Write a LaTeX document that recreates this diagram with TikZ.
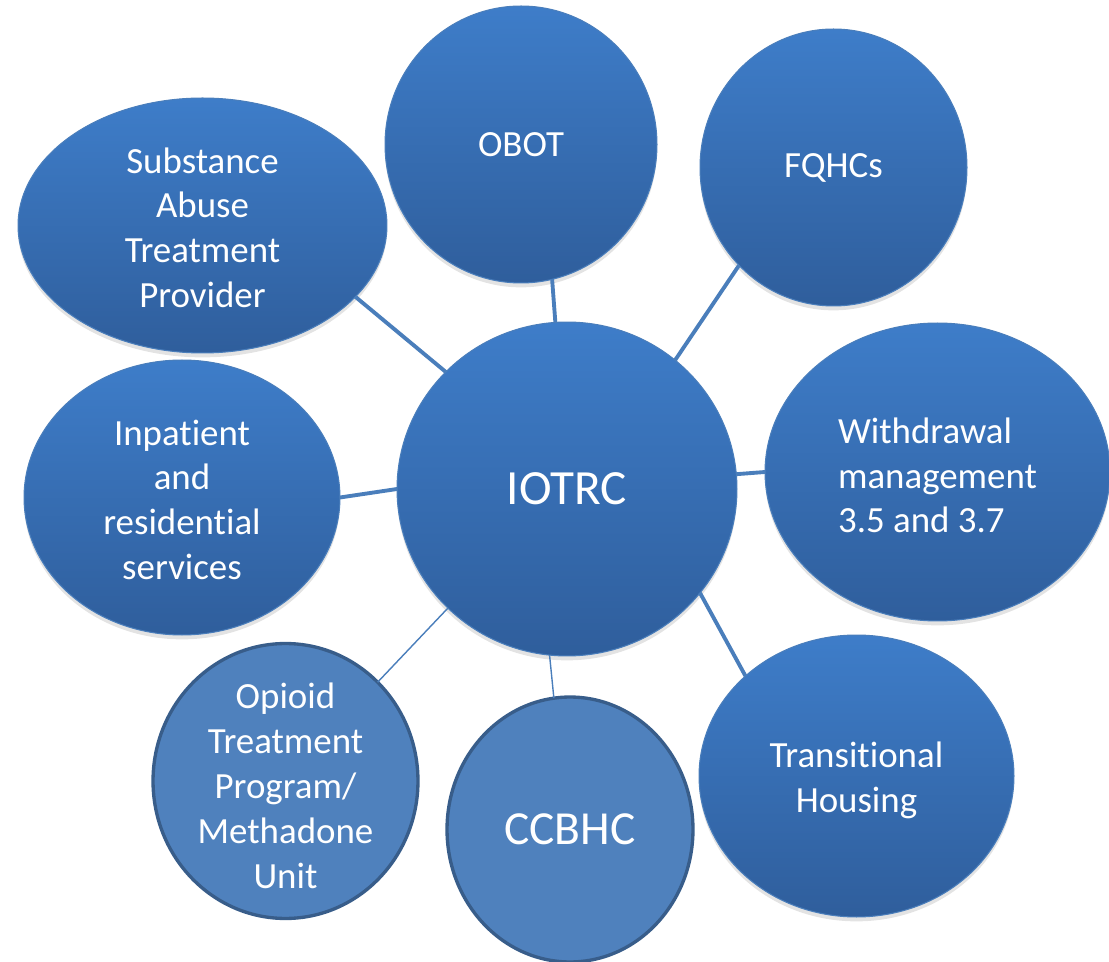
\documentclass[tikz,border=0pt]{standalone}
\usepackage{fontspec}
\setmainfont{Carlito}[RawFeature={-liga;-clig;-dlig;-calt}]
\usetikzlibrary{shapes.geometric,shadows}
\definecolor{topblue}{HTML}{3E7DC9}
\definecolor{botblue}{HTML}{2F5E9C}
\definecolor{edgeblue}{HTML}{4A7EBB}
\definecolor{flatblue}{HTML}{4F81BD}
\definecolor{darkedge}{HTML}{385D8A}
\definecolor{linkblue}{HTML}{4A7EBB}
\begin{document}
\begin{tikzpicture}[x=0.02cm,y=-0.02cm,
  bubble/.style={ellipse, inner sep=-30pt, outer sep=0pt, top color=topblue, bottom color=botblue,
    draw=edgeblue, line width=0.6pt, text=white, align=center,
    font=\fontsize{21}{25.5}\selectfont,
    drop shadow={shadow xshift=0pt, shadow yshift=-2.5pt, opacity=0.22}},
  flatbubble/.style={ellipse, inner sep=-30pt, outer sep=0pt, fill=flatblue, draw=darkedge,
    line width=1.9pt, text=white, align=center, font=\fontsize{21}{25.5}\selectfont},
  thicklink/.style={draw=linkblue, line width=2.2pt},
  thinlink/.style={draw=linkblue, line width=0.8pt}]
\useasboundingbox (0,0) rectangle (1109,962);

\node[bubble, minimum width=6.8cm, minimum height=6.68cm, font=\fontsize{28}{34}\selectfont] (iotrc) at (567,489) {IOTRC};
\node[bubble, minimum width=7.38cm, minimum height=5.1cm] (sat) at (202.5,225.5) {\rule{0pt}{17pt}Substance\\Abuse\\Treatment\\Provider};
\node[bubble, minimum width=5.44cm, minimum height=5.54cm] (obot) at (521,144.5) {OBOT};
\node[bubble, minimum width=5.34cm, minimum height=5.54cm] (fqhc) at (833.5,167.5) {FQHCs};
\node[bubble, minimum width=6.9cm, minimum height=5.96cm, align=left] (wm) at (937.5,472) {\rule{0pt}{18.5pt}Withdrawal\\management\\3.5 and 3.7};
\node[bubble, minimum width=6.32cm, minimum height=5.5cm] (inpat) at (182,497.5) {\rule{0pt}{17pt}Inpatient\\and\\residential\\services};
\node[flatbubble, minimum width=5.3cm, minimum height=5.5cm] (otp) at (285.5,781) {\rule{0pt}{20pt}Opioid\\Treatment\\Program/\\Methadone\\Unit};
\node[flatbubble, minimum width=4.92cm, minimum height=5.3cm, font=\fontsize{27}{32}\selectfont] (ccbhc) at (570,829.5) {CCBHC};
\node[bubble, minimum width=6.3cm, minimum height=5.64cm] (trans) at (856.5,776) {\rule{0pt}{20pt}Transitional\\Housing};

\draw[thicklink] (iotrc.136.7) -- (sat.-25.1);
\draw[thicklink] (iotrc.94.8) -- (obot.-77);
\draw[thicklink] (iotrc.50.6) -- (fqhc.226.5);
\draw[thicklink] (iotrc.5.7) -- (wm.180);
\draw[thicklink] (iotrc.180.3) -- (inpat.0);
\draw[thinlink] (iotrc.225.2) -- (otp.47);
\draw[thinlink] (iotrc.264.8) -- (ccbhc.97.3);
\draw[thicklink] (iotrc.-38.4) -- (trans.138.1);
\end{tikzpicture}
\end{document}
